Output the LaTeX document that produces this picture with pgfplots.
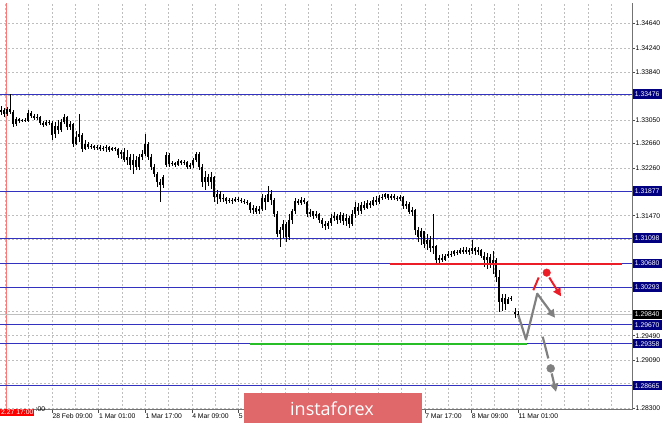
\documentclass[border=0pt]{standalone}
\usepackage{fontspec}
\setmainfont{Liberation Sans}
\newfontfamily\wmfont{Open Sans}
\usepackage{pgfplots}
\usepackage{pgfplotstable}
\pgfplotsset{compat=1.18}
\usetikzlibrary{arrows.meta}
\definecolor{navyb}{RGB}{0,0,128}
\definecolor{lvl}{RGB}{50,50,190}
\definecolor{gridc}{RGB}{190,190,190}
\definecolor{wm}{RGB}{224,104,106}
\definecolor{arrowred}{RGB}{235,30,40}
\definecolor{grn}{RGB}{40,190,40}
\definecolor{arrgray}{RGB}{128,128,128}
\definecolor{sepred}{RGB}{255,120,120}

\pgfplotstableread{
x o h l c
1 1.3318 1.3328 1.3314 1.3322
4 1.3322 1.3325 1.3310 1.3315
7 1.3315 1.3327 1.3312 1.3323
10 1.3323 1.3348 1.3315 1.3318
13 1.3318 1.3322 1.3294 1.3299
16 1.3299 1.3310 1.3295 1.3307
19 1.3307 1.3309 1.3300 1.3304
22 1.3304 1.3307 1.3302 1.3305
25 1.3305 1.3309 1.3302 1.3304
28 1.3304 1.3322 1.3302 1.3317
31 1.3317 1.3320 1.3309 1.3312
34 1.3312 1.3315 1.3305 1.3309
37 1.3309 1.3314 1.3305 1.3310
40 1.3310 1.3312 1.3297 1.3300
43 1.3300 1.3304 1.3294 1.3297
46 1.3297 1.3305 1.3295 1.3302
49 1.3302 1.3305 1.3297 1.3300
52 1.3300 1.3304 1.3272 1.3281
55 1.3281 1.3302 1.3276 1.3295
58 1.3295 1.3305 1.3282 1.3289
61 1.3289 1.3307 1.3286 1.3302
64 1.3302 1.3315 1.3299 1.3310
67 1.3310 1.3312 1.3289 1.3294
70 1.3294 1.3304 1.3289 1.3299
73 1.3299 1.3300 1.3261 1.3266
76 1.3266 1.3287 1.3264 1.3277
79 1.3277 1.3314 1.3269 1.3281
82 1.3281 1.3284 1.3252 1.3257
85 1.3257 1.3272 1.3256 1.3266
88 1.3266 1.3269 1.3257 1.3261
91 1.3261 1.3266 1.3257 1.3262
94 1.3262 1.3264 1.3256 1.3259
97 1.3259 1.3264 1.3256 1.3261
100 1.3261 1.3264 1.3254 1.3257
103 1.3257 1.3262 1.3254 1.3259
106 1.3259 1.3264 1.3252 1.3261
109 1.3261 1.3262 1.3252 1.3256
112 1.3256 1.3261 1.3254 1.3259
115 1.3259 1.3261 1.3254 1.3257
118 1.3257 1.3259 1.3243 1.3248
121 1.3248 1.3256 1.3241 1.3252
124 1.3252 1.3259 1.3236 1.3239
127 1.3239 1.3256 1.3231 1.3244
130 1.3244 1.3248 1.3223 1.3231
133 1.3231 1.3249 1.3216 1.3239
136 1.3239 1.3246 1.3223 1.3228
139 1.3228 1.3249 1.3223 1.3244
142 1.3244 1.3256 1.3239 1.3249
145 1.3249 1.3282 1.3246 1.3266
148 1.3266 1.3269 1.3239 1.3244
151 1.3244 1.3248 1.3223 1.3228
154 1.3228 1.3233 1.3211 1.3216
157 1.3216 1.3220 1.3195 1.3203
160 1.3203 1.3208 1.3170 1.3198
163 1.3198 1.3215 1.3193 1.3211
166 1.3231 1.3252 1.3228 1.3248
169 1.3248 1.3251 1.3228 1.3233
172 1.3233 1.3238 1.3229 1.3234
175 1.3234 1.3236 1.3228 1.3231
178 1.3231 1.3241 1.3229 1.3238
181 1.3238 1.3239 1.3231 1.3234
184 1.3234 1.3239 1.3231 1.3236
187 1.3236 1.3238 1.3224 1.3228
190 1.3228 1.3234 1.3224 1.3231
193 1.3231 1.3243 1.3226 1.3239
196 1.3239 1.3252 1.3236 1.3249
199 1.3249 1.3252 1.3223 1.3228
202 1.3228 1.3233 1.3195 1.3203
205 1.3203 1.3220 1.3190 1.3211
208 1.3211 1.3216 1.3196 1.3203
211 1.3203 1.3220 1.3191 1.3211
214 1.3211 1.3213 1.3170 1.3178
217 1.3178 1.3190 1.3167 1.3183
220 1.3183 1.3188 1.3170 1.3175
223 1.3175 1.3182 1.3170 1.3177
226 1.3177 1.3178 1.3167 1.3172
229 1.3172 1.3177 1.3168 1.3173
232 1.3173 1.3177 1.3167 1.3172
235 1.3172 1.3178 1.3170 1.3175
238 1.3175 1.3178 1.3170 1.3173
241 1.3173 1.3177 1.3168 1.3172
244 1.3172 1.3175 1.3167 1.3170
247 1.3170 1.3173 1.3165 1.3168
250 1.3168 1.3170 1.3152 1.3157
253 1.3157 1.3165 1.3150 1.3160
256 1.3160 1.3163 1.3149 1.3154
259 1.3154 1.3163 1.3150 1.3158
262 1.3158 1.3183 1.3154 1.3177
265 1.3177 1.3182 1.3157 1.3170
268 1.3170 1.3196 1.3173 1.3183
271 1.3183 1.3190 1.3165 1.3173
274 1.3173 1.3177 1.3145 1.3150
277 1.3150 1.3154 1.3112 1.3117
280 1.3117 1.3129 1.3096 1.3124
283 1.3124 1.3140 1.3111 1.3134
286 1.3134 1.3137 1.3104 1.3112
289 1.3112 1.3150 1.3107 1.3140
292 1.3140 1.3158 1.3134 1.3154
295 1.3154 1.3177 1.3150 1.3172
298 1.3172 1.3175 1.3165 1.3168
301 1.3168 1.3178 1.3165 1.3173
304 1.3173 1.3177 1.3167 1.3170
307 1.3170 1.3172 1.3145 1.3150
310 1.3150 1.3158 1.3145 1.3154
313 1.3154 1.3155 1.3142 1.3147
316 1.3147 1.3154 1.3144 1.3150
319 1.3150 1.3152 1.3135 1.3140
322 1.3140 1.3144 1.3127 1.3134
325 1.3134 1.3139 1.3124 1.3130
328 1.3130 1.3139 1.3125 1.3135
331 1.3135 1.3150 1.3130 1.3144
334 1.3144 1.3154 1.3139 1.3147
337 1.3147 1.3150 1.3134 1.3140
340 1.3140 1.3154 1.3135 1.3149
343 1.3149 1.3152 1.3132 1.3139
346 1.3139 1.3149 1.3130 1.3144
349 1.3144 1.3147 1.3127 1.3134
352 1.3134 1.3157 1.3130 1.3150
355 1.3150 1.3170 1.3144 1.3162
358 1.3162 1.3168 1.3149 1.3154
361 1.3154 1.3170 1.3150 1.3165
364 1.3165 1.3172 1.3157 1.3160
367 1.3160 1.3173 1.3158 1.3168
370 1.3168 1.3172 1.3160 1.3165
373 1.3165 1.3178 1.3163 1.3173
376 1.3173 1.3180 1.3165 1.3170
379 1.3170 1.3182 1.3167 1.3177
382 1.3177 1.3183 1.3173 1.3178
385 1.3178 1.3185 1.3175 1.3182
388 1.3182 1.3183 1.3173 1.3177
391 1.3177 1.3183 1.3173 1.3180
394 1.3180 1.3182 1.3173 1.3177
397 1.3177 1.3180 1.3172 1.3175
400 1.3175 1.3182 1.3172 1.3178
403 1.3178 1.3180 1.3158 1.3163
406 1.3163 1.3172 1.3158 1.3167
409 1.3167 1.3170 1.3149 1.3154
412 1.3154 1.3162 1.3147 1.3157
415 1.3157 1.3158 1.3116 1.3124
418 1.3124 1.3129 1.3104 1.3112
421 1.3112 1.3126 1.3099 1.3121
424 1.3121 1.3122 1.3094 1.3101
427 1.3101 1.3117 1.3091 1.3107
430 1.3107 1.3114 1.3088 1.3094
433 1.3094 1.3150 1.3084 1.3097
436 1.3097 1.3099 1.3068 1.3074
439 1.3074 1.3083 1.3069 1.3078
442 1.3078 1.3084 1.3071 1.3074
445 1.3074 1.3084 1.3073 1.3081
448 1.3081 1.3089 1.3078 1.3084
451 1.3084 1.3089 1.3079 1.3083
454 1.3083 1.3091 1.3081 1.3088
457 1.3088 1.3091 1.3083 1.3086
460 1.3086 1.3094 1.3084 1.3091
463 1.3091 1.3096 1.3084 1.3088
466 1.3088 1.3096 1.3084 1.3091
469 1.3091 1.3094 1.3083 1.3088
472 1.3088 1.3107 1.3084 1.3094
475 1.3094 1.3096 1.3083 1.3088
478 1.3088 1.3096 1.3083 1.3091
481 1.3091 1.3092 1.3078 1.3081
484 1.3081 1.3088 1.3063 1.3074
487 1.3074 1.3086 1.3059 1.3079
490 1.3079 1.3084 1.3061 1.3068
493 1.3068 1.3088 1.3051 1.3074
496 1.3074 1.3078 1.3038 1.3046
499 1.3046 1.3058 1.2989 1.3005
502 1.3005 1.3018 1.2990 1.3012
505 1.3012 1.3017 1.2992 1.3002
508 1.3002 1.3013 1.3004 1.3010
511 1.3010 1.3015 1.3007 1.3012
515 1.2989 1.2994 1.2979 1.2985
518 1.2985 1.2990 1.2977 1.2984
}\candles

\begin{document}
\begin{tikzpicture}[x=1pt,y=1pt]
\path[use as bounding box] (0,0) rectangle (665,424);
\begin{axis}[at={(0,23.5)}, anchor=south west, scale only axis,
  width=632pt, height=407pt,
  xmin=0, xmax=632, ymin=1.28268, ymax=1.349835,
  clip mode=individual,
  separate axis lines,
  axis x line*=bottom, axis y line*=right,
  axis line style={-, draw=black!55, line width=0.9pt},
  tick align=outside,
  major tick length=3pt, minor tick length=0pt,
  tick style={black!70, line width=0.6pt},
  xtick={5.4,52,98.6,145.2,191.8,238.4,424.8,471.4,518},
  xticklabels={, 28 Feb 09:00, 1 Mar 01:00, 1 Mar 17:00, 4 Mar 09:00, 5 Mar 01:00, 7 Mar 17:00, 8 Mar 09:00, 11 Mar 01:00},
  minor xtick={28.7,75.3,121.9,168.5,215.1,261.7,285,308.3,331.6,354.9,378.2,401.5,448.1,494.7,541.3,564.6,587.9,611.2},
  ytick={1.2830,1.2909,1.2949,1.3147,1.3226,1.3266,1.3305,1.3384,1.3424,1.3464},
  yticklabels={1.28300,1.29090,1.29490,1.31470,1.32260,1.32660,1.33050,1.33840,1.34240,1.34640},
  minor ytick={1.33452,1.31868,1.31076,1.30284,1.29888,1.28700},
  xmajorgrids, xminorgrids, ymajorgrids, yminorgrids,
  major grid style={gridc, dash pattern=on 2pt off 2pt, line width=0.5pt},
  minor grid style={gridc, dash pattern=on 2pt off 2pt, line width=0.5pt},
  xticklabel style={font=\fontsize{6.8}{8}\selectfont, anchor=north west, inner sep=0pt, xshift=0.3pt, yshift=-1pt},
  yticklabel style={font=\fontsize{6.8}{8}\selectfont, anchor=west, inner sep=0pt, xshift=0.5pt},
]
% period separator
\addplot[sepred, line width=1pt, forget plot] coordinates {(6.5,1.28268) (6.5,1.349835)};
% level lines
\addplot[lvl, line width=0.9pt] coordinates {(0,1.33476) (632,1.33476)};
\addplot[lvl, line width=0.9pt] coordinates {(0,1.31877) (632,1.31877)};
\addplot[lvl, line width=0.9pt] coordinates {(0,1.31098) (632,1.31098)};
\addplot[lvl, line width=0.9pt] coordinates {(0,1.30680) (390,1.30680)};
\addplot[lvl, line width=0.9pt] coordinates {(622,1.30680) (632,1.30680)};
\addplot[lvl, line width=0.9pt] coordinates {(0,1.30293) (632,1.30293)};
\addplot[lvl, line width=0.9pt] coordinates {(0,1.29670) (632,1.29670)};
\addplot[lvl, line width=0.9pt] coordinates {(0,1.29358) (632,1.29358)};
\addplot[lvl, line width=0.9pt] coordinates {(0,1.28665) (632,1.28665)};
\addplot[black!25, line width=0.7pt] coordinates {(0,1.29840) (632,1.29840)};
% candles: wicks
\addplot[draw=none, forget plot, error bars/.cd, y dir=both, y explicit, error mark=none,
  error bar style={black, line width=0.7pt}]
  table[x=x, y expr={(\thisrow{h}+\thisrow{l})/2}, y error expr={(\thisrow{h}-\thisrow{l})/2}] {\candles};
% candles: bodies
\addplot[draw=none, forget plot, error bars/.cd, y dir=both, y explicit, error mark=none,
  error bar style={black, line width=1.6pt}]
  table[x=x, y expr={(\thisrow{o}+\thisrow{c})/2}, y error expr={max(abs(\thisrow{o}-\thisrow{c})/2,0.00008)}] {\candles};
% green level
\addplot[draw=grn, line width=1.8pt] coordinates {(250,1.29358) (527,1.29358)};
% red scenario
\addplot[arrowred, line width=2pt] coordinates {(533.3,1.3024) (538.7,1.3045)};
\addplot[arrowred, only marks, mark=*, mark size=3.8pt] coordinates {(546.7,1.3053)};
\addplot[arrowred, line width=2pt, -{Triangle[length=8pt,width=8pt]}] coordinates {(549.3,1.3045) (561,1.3014)};
% gray scenario
\addplot[arrgray, line width=2.2pt, line join=round, -{Triangle[length=8pt,width=8pt]}] coordinates {(518.3,1.29831) (526,1.29428) (537.3,1.30182) (555,1.29786)};
\addplot[arrgray, line width=2.2pt] coordinates {(542.7,1.29473) (548.3,1.29115)};
\addplot[arrgray, only marks, mark=*, mark size=4pt] coordinates {(550.7,1.28950)};
\addplot[arrgray, line width=2.2pt, -{Triangle[length=8pt,width=8pt]}] coordinates {(551.7,1.28867) (556,1.28565)};
% red level, drawn last
\addplot[arrowred, line width=2pt] coordinates {(390,1.3068) (622,1.3068)};
% price boxes
\tikzset{pbox/.style={fill=navyb, text=white, anchor=west, inner xsep=2.2pt, inner ysep=0pt, minimum height=9.5pt, font=\fontsize{6.8}{8}\selectfont}}
\node[pbox] at (axis cs:632.5,1.33476) {1.33476};
\node[pbox] at (axis cs:632.5,1.31877) {1.31877};
\node[pbox] at (axis cs:632.5,1.31098) {1.31098};
\node[pbox] at (axis cs:632.5,1.30680) {1.30680};
\node[pbox] at (axis cs:632.5,1.30293) {1.30293};
\node[pbox, fill=black] at (axis cs:632.5,1.29840) {1.29840};
\node[pbox] at (axis cs:632.5,1.29670) {1.29670};
\node[pbox] at (axis cs:632.5,1.29358) {1.29358};
\node[pbox] at (axis cs:632.5,1.28665) {1.28665};
\end{axis}
% time box, partly hidden label, watermark
\node[anchor=north west, inner sep=0pt, font=\fontsize{6.8}{8}\selectfont] at (35.5,17.5) {:00};
\node[fill=red, text=white, anchor=north west, inner xsep=1pt, inner ysep=1pt, font=\fontsize{6.8}{8}\selectfont] at (0,15.5) {2.27 17:00};
\fill[wm] (244.3,1.3) rectangle (421.7,30.7);
\node[text=white, anchor=base, inner sep=0pt, font=\wmfont\fontsize{18}{18}\selectfont] at (332,9) {instaforex};
\end{tikzpicture}
\end{document}
